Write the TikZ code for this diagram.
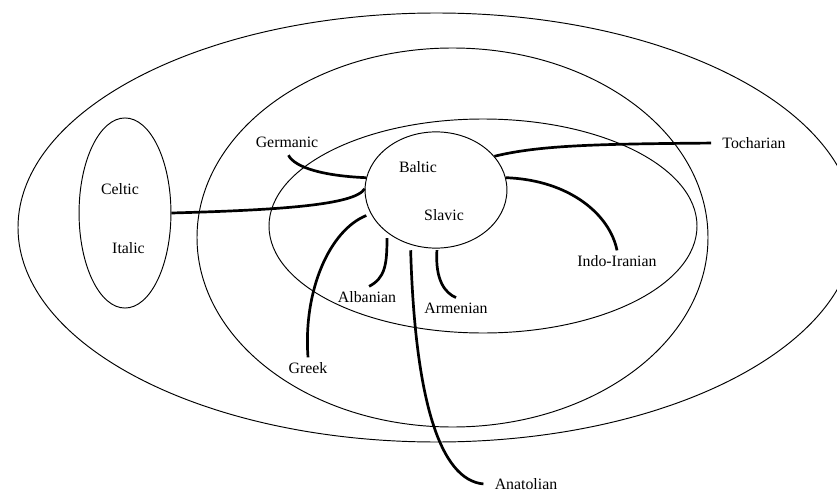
\documentclass[tikz,border=0pt]{standalone}
\usepackage{fontspec}
\setmainfont{Liberation Serif}
\usetikzlibrary{shapes.geometric}

\begin{document}
\begin{tikzpicture}[scale=0.222]
\tikzstyle{every node}+=[inner sep=3pt]
\tikzstyle{ring}=[line width=0.6pt]
\tikzstyle{branch}=[line width=1.7pt]
\useasboundingbox (0,0) rectangle (83.7,-49.4);
% nested zones
\draw [ring] (43.65,-22.75) ellipse (41.85 and 21.45);
\draw [ring] (45.25,-23.75) ellipse (25.55 and 18.95);
\draw [ring] (48.3,-22.6) ellipse (21.4 and 10.7);
\node [ring, draw, ellipse, inner sep=0pt, minimum width=2.04cm, minimum height=4.22cm] (italo) at (12.5,-21.3) {};
\node [ring, draw, ellipse, inner sep=0pt, minimum width=3.15cm, minimum height=2.58cm] (core) at (43.6,-19) {};
% labels
\node (celtic) at (12,-18.9) {Celtic};
\node (italic) at (12.85,-24.8) {Italic};
\node (baltic) at (41.8,-16.7) {Baltic};
\node (slavic) at (44.4,-21.5) {Slavic};
\node (germ) at (28.7,-14.2) {Germanic};
\node (toch) at (75.4,-14.3) {Tocharian};
\node (indo) at (61.7,-26.1) {Indo-Iranian};
\node (alb) at (36.7,-29.7) {Albanian};
\node (arm) at (45.6,-30.8) {Armenian};
\node (greek) at (30.8,-36.8) {Greek};
\node (anat) at (52.6,-48.45) {Anatolian};
% branches
\draw [branch, shorten <=2pt] (germ.south) .. controls (29.5,-16.8) and (32.5,-17.6) .. (core.170);
\draw [branch] (italo.east) .. controls (28,-21) and (35.5,-20.5) .. (core.179);
\draw [branch, shorten >=4pt] (core.30) .. controls (54,-14.5) and (60,-14.4) .. (toch.west);
\draw [branch] (core.10) .. controls (57,-18) and (61,-21.5) .. (indo.north);
\draw [branch, shorten <=3pt] (core.200) .. controls (33,-23) and (30.3,-29) .. (greek.north);
\draw [branch, shorten <=3.5pt] (core.221) .. controls (38.7,-26.5) and (38.5,-27.8) .. ([xshift=6pt]alb.north);
\draw [branch, shorten <=1pt] (core.271) .. controls (43.5,-28) and (44.5,-29.3) .. (arm.north);
\draw [branch, shorten <=3.5pt, shorten >=4pt] (core.245) .. controls (41.5,-40) and (44,-48) .. (anat.west);
\end{tikzpicture}
\end{document}
